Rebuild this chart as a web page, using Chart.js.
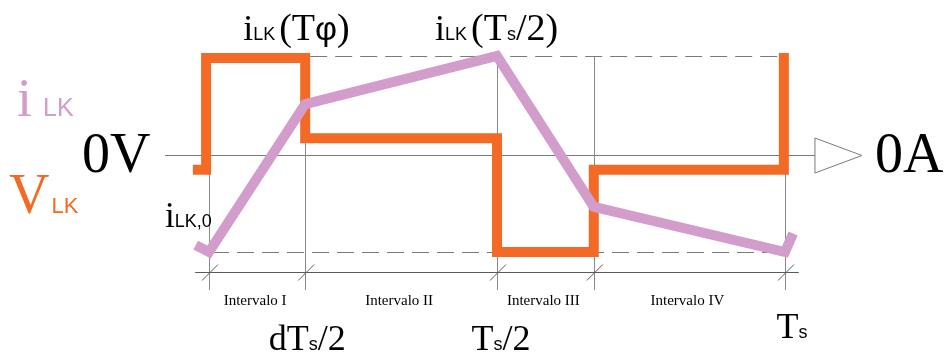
<!DOCTYPE html>
<html>
<head>
<meta charset="utf-8">
<title>Corriente y tensión en la inductancia de dispersión</title>
<script src="https://cdn.jsdelivr.net/npm/chart.js@4.4.1/dist/chart.umd.min.js"></script>
<style>
  html, body { margin: 0; padding: 0; background: #ffffff; }
  #wrap { position: relative; width: 947px; height: 360px; }
</style>
</head>
<body>
<div id="wrap"><canvas id="c"></canvas></div>
<script>
// Time is normalised to one switching period (Ts = 1), amplitudes to the peak value.
const tickTimes = [0, 0.167, 0.5, 0.668, 1.0];           // 0, dTs/2, Ts/2, (1+d)Ts/2, Ts
const intervalNames = ['Intervalo I', 'Intervalo II', 'Intervalo III', 'Intervalo IV'];

// Inductor voltage V_LK (square steps)
const vlkTime  = [-0.028, -0.005, -0.005, 0.167, 0.167, 0.5,  0.5,   0.668, 0.668, 0.998, 0.998];
const vlkValue = [-0.15,  -0.15,   0.99,  0.99,  0.17,  0.17, -0.99, -0.99, -0.15, -0.15, 1.04];

// Inductor current i_LK (piecewise linear)
const ilkTime  = [-0.023, 0,     0.167, 0.5,  0.668, 1.0,   1.014];
const ilkValue = [-0.92,  -0.99, 0.52,  1.01, -0.53, -0.99, -0.80];

const ORANGE = '#f26a25';
const PINK = '#d29ccb';
const GREY = '#8a8a8a';

// Levels (in value units) of the time axis under the plot and of the tick ends
const timeAxisLevel = -1.195;
const tickEndLevel = -1.378;

const SERIF = '"Liberation Serif", "Times New Roman", serif';
const SANS = '"Liberation Sans", Arial, sans-serif';

function pts(ts, vs) { return ts.map((t, i) => ({ x: t, y: vs[i] })); }

// Draw a run of text pieces, each with its own font, starting at (x, y) on the baseline
function drawRich(ctx, x, y, parts, color, align) {
  ctx.save();
  ctx.textBaseline = 'alphabetic';
  ctx.textAlign = 'left';
  ctx.fillStyle = color;
  let total = 0;
  parts.forEach(p => { ctx.font = p[1]; total += ctx.measureText(p[0]).width + (p[2] || 0); });
  let cx = align === 'center' ? x - total / 2 : x;
  parts.forEach(p => {
    ctx.font = p[1];
    cx += (p[2] || 0);
    ctx.fillText(p[0], cx, y + (p[3] || 0));
    cx += ctx.measureText(p[0]).width;
  });
  ctx.restore();
}

const guides = {
  id: 'guides',
  beforeDatasetsDraw(chart) {
    const ctx = chart.ctx;
    const xs = chart.scales.x, ys = chart.scales.y;
    const X = v => xs.getPixelForValue(v);
    const Y = v => ys.getPixelForValue(v);
    const peak = Math.max(...ilkValue);
    const i0 = ilkValue[1];
    ctx.save();
    ctx.lineWidth = 1;

    // zero axis with open arrow head
    ctx.strokeStyle = '#7a7a7a';
    const y0 = Math.round(Y(0)) + 0.5;
    ctx.beginPath();
    ctx.moveTo(X(-0.0764), y0);
    ctx.lineTo(X(1.052), y0);
    ctx.stroke();
    ctx.beginPath();
    ctx.moveTo(X(1.052), y0 - 17.5);
    ctx.lineTo(X(1.052) + 47, y0);
    ctx.lineTo(X(1.052), y0 + 17.5);
    ctx.closePath();
    ctx.fillStyle = '#ffffff';
    ctx.fill();
    ctx.stroke();

    // vertical guides at each instant
    ctx.strokeStyle = GREY;
    tickTimes.forEach((t, i) => {
      const px = Math.round(X(t)) + 0.5;
      ctx.beginPath();
      ctx.moveTo(px, i === 0 ? Y(-0.18) : Y(peak));
      ctx.lineTo(px, Y(tickEndLevel));
      ctx.stroke();
    });

    // dashed level lines for the current extremes
    ctx.setLineDash([17, 8]);
    ctx.strokeStyle = '#7a7a7a';
    ctx.beginPath();
    ctx.moveTo(X(tickTimes[1]) + 5, Math.round(Y(peak)) + 0.5);
    ctx.lineTo(X(1.0), Math.round(Y(peak)) + 0.5);
    ctx.stroke();
    ctx.beginPath();
    ctx.moveTo(X(0) + 3, Math.round(Y(i0)) + 0.5);
    ctx.lineTo(X(1.0), Math.round(Y(i0)) + 0.5);
    ctx.stroke();
    ctx.setLineDash([]);

    // time axis with slashed ticks
    ctx.strokeStyle = '#5a5a5a';
    const ya = Math.round(Y(timeAxisLevel)) + 0.5;
    ctx.beginPath();
    ctx.moveTo(X(-0.024), ya);
    ctx.lineTo(X(1.024), ya);
    ctx.stroke();
    tickTimes.forEach(t => {
      const px = X(t);
      ctx.beginPath();
      ctx.moveTo(px - 7, ya + 8);
      ctx.lineTo(px + 9, ya - 8);
      ctx.stroke();
    });
    ctx.restore();
  },
  afterDatasetsDraw(chart) {
    const ctx = chart.ctx;
    const xs = chart.scales.x, ys = chart.scales.y;
    const X = v => xs.getPixelForValue(v);
    const Y = v => ys.getPixelForValue(v);
    const y0 = Y(0);

    // legend-like captions on the left
    drawRich(ctx, 17, 116, [['i', '54px ' + SERIF], ['LK', '25px ' + SANS, 11]], PINK);
    drawRich(ctx, 9, 213, [['V', '56px ' + SERIF], ['LK', '22px ' + SANS, 2]], ORANGE);

    // zero labels
    drawRich(ctx, 82, y0 + 17, [['0V', '56px ' + SERIF]], '#000');
    drawRich(ctx, 875, y0 + 17, [['0A', '56px ' + SERIF]], '#000');

    // current labels
    drawRich(ctx, X(0) - 44, 227, [['i', '35px ' + SERIF], ['LK,0', '18px ' + SANS]], '#000');
    drawRich(ctx, X(tickTimes[1]) - 62, 40, [['i', '36px ' + SERIF], ['LK', '18px ' + SANS], ['(T', '38px ' + SERIF, 4], ['φ', '34px ' + SANS], [')', '38px ' + SERIF]], '#000');
    drawRich(ctx, X(tickTimes[2]) - 62, 40, [['i', '36px ' + SERIF], ['LK', '18px ' + SANS], ['(T', '38px ' + SERIF, 4], ['s', '18px ' + SANS], ['/2)', '38px ' + SERIF]], '#000');

    // interval names centred between instants
    for (let i = 0; i < intervalNames.length; i++) {
      const xm = (X(tickTimes[i]) + X(tickTimes[i + 1])) / 2;
      drawRich(ctx, xm - 2, 305, [[intervalNames[i], '15px ' + SERIF]], '#000', 'center');
    }

    // instants
    drawRich(ctx, X(tickTimes[1]) + 2, 350, [['dT', '36px ' + SERIF], ['s', '18px ' + SANS], ['/2', '36px ' + SERIF]], '#000', 'center');
    drawRich(ctx, X(tickTimes[2]) + 4, 350, [['T', '36px ' + SERIF], ['s', '18px ' + SANS], ['/2', '36px ' + SERIF]], '#000', 'center');
    drawRich(ctx, X(tickTimes[4]) + 7, 338, [['T', '36px ' + SERIF], ['s', '18px ' + SANS]], '#000', 'center');
  }
};

new Chart(document.getElementById('c'), {
  type: 'scatter',
  data: {
    datasets: [
      {
        label: 'iLK',
        data: pts(ilkTime, ilkValue),
        showLine: true,
        borderColor: PINK,
        borderWidth: 10,
        borderJoinStyle: 'miter',
        borderCapStyle: 'butt',
        pointRadius: 0,
        tension: 0,
        order: 0
      },
      {
        label: 'VLK',
        data: pts(vlkTime, vlkValue),
        showLine: true,
        borderColor: ORANGE,
        borderWidth: 10,
        borderJoinStyle: 'miter',
        borderCapStyle: 'butt',
        pointRadius: 0,
        tension: 0,
        order: 1
      }
    ]
  },
  options: {
    responsive: true,
    maintainAspectRatio: false,
    animation: false,
    events: [],
    layout: { padding: 0 },
    plugins: { legend: { display: false }, tooltip: { enabled: false } },
    scales: {
      x: { type: 'linear', display: false, min: -209 / 576, max: 738 / 576 },
      y: { type: 'linear', display: false, min: -205 / 98, max: 155 / 98 }
    }
  },
  plugins: [guides]
});
</script>
</body>
</html>
